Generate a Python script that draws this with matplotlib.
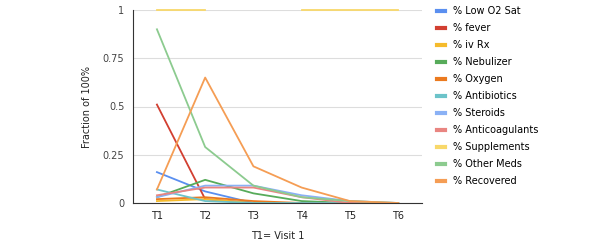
import numpy as np
import matplotlib.pyplot as plt

cats = ['T1', 'T2', 'T3', 'T4', 'T5', 'T6']
names = ['% Low O2 Sat', '% fever', '% iv Rx', '% Nebulizer', '% Oxygen',
         '% Antibiotics', '% Steroids', '% Anticoagulants', '% Supplements',
         '% Other Meds', '% Recovered']
low_o2 = [0.16, 0.06, 0.0, 0.0, 0.0, 0.0]
fever = [0.51, 0.02, 0.0, 0.0, 0.0, 0.0]
iv_rx = [0.01, 0.02, 0.0, 0.0, 0.0, 0.0]
nebulizer = [0.03, 0.12, 0.05, 0.01, 0.0, 0.0]
oxygen = [0.02, 0.03, 0.01, 0.0, 0.0, 0.0]
antibiotics = [0.07, 0.01, 0.0, 0.0, 0.0, 0.0]
steroids = [0.03, 0.09, 0.09, 0.04, 0.01, 0.0]
anticoag = [0.04, 0.08, 0.08, 0.03, 0.0, 0.0]
supplements = [1.0, 1.0, np.nan, 1.0, 1.0, 1.0]
other_meds = [0.90, 0.29, 0.09, 0.03, 0.01, 0.0]
recovered = [0.07, 0.65, 0.19, 0.08, 0.01, 0.0]

series = [low_o2, fever, iv_rx, nebulizer, oxygen, antibiotics, steroids,
          anticoag, supplements, other_meds, recovered]
colors = ['#5a8ff0', '#d23f31', '#f5bb2c', '#57ab5a', '#eb7a1f', '#6cc3c9',
          '#8ab1f5', '#e98581', '#f8d86a', '#8ccb8f', '#f59d54']

fig = plt.figure(figsize=(6.12, 2.5), dpi=100)
ax = fig.add_axes([0.217, 0.188, 0.473, 0.772])

x = np.arange(len(cats))
for vals, name, c in zip(series, names, colors):
    ax.plot(x, vals, color=c, lw=1.3, label=name, clip_on=False)

ax.set_xlim(-0.5, 5.5)
ax.set_ylim(0, 1)
ax.set_xticks(x)
ax.set_xticklabels(cats, fontsize=7, color='#222222')
ax.set_yticks([0, 0.25, 0.5, 0.75, 1])
ax.set_yticklabels(['0', '0.25', '0.5', '0.75', '1'], fontsize=7, color='#444444')
ax.tick_params(length=0, pad=6)
ax.grid(axis='y', color='#dddddd', lw=0.8)
ax.set_axisbelow(True)
for s in ['top', 'right']:
    ax.spines[s].set_visible(False)
ax.spines['left'].set_color('#333333')
ax.spines['bottom'].set_color('#333333')
ax.set_ylabel('Fraction of 100%', fontsize=7, color='#222222', labelpad=8)
ax.set_xlabel('T1= Visit 1', fontsize=7, color='#222222', labelpad=7)

leg = ax.legend(loc='upper left', bbox_to_anchor=(1.02, 1.065), frameon=False,
                fontsize=7, handlelength=0.8, labelspacing=0.72,
                handletextpad=0.9)
for line in leg.get_lines():
    line.set_linewidth(3)

fig.savefig('out.png', dpi=100)
